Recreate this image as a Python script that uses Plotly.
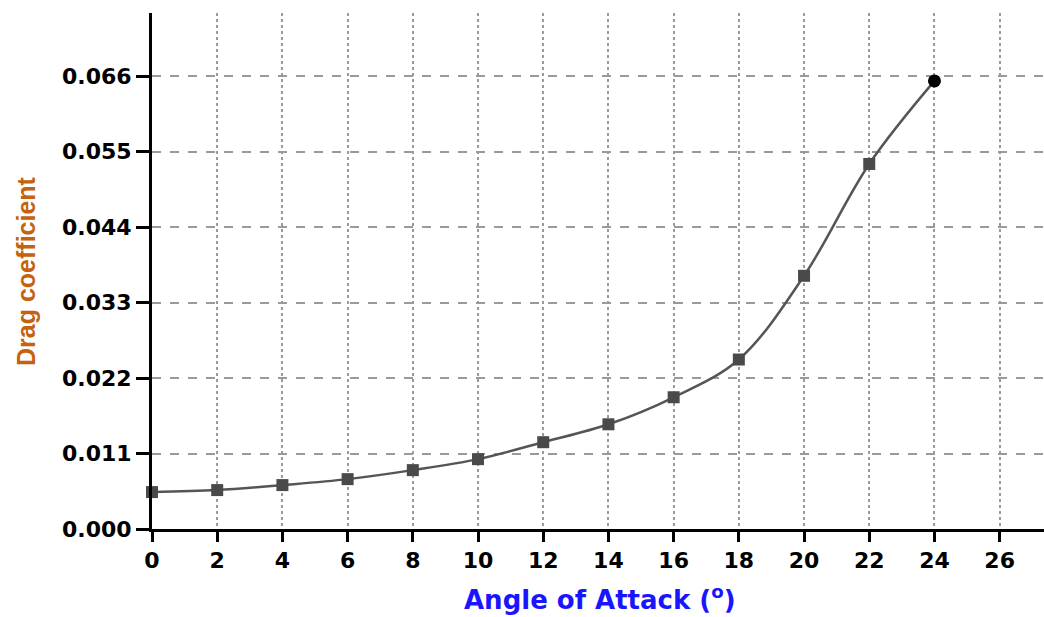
import plotly.graph_objects as go

angles = [0, 2, 4, 6, 8, 10, 12, 14, 16, 18, 20, 22, 24]
drag = [0.00538, 0.00567, 0.0064, 0.00727, 0.00858, 0.01018, 0.01265,
        0.01526, 0.0192, 0.0247, 0.0369, 0.0532, 0.0653]
x_ticks = list(range(0, 27, 2))
y_ticks = [0.0, 0.011, 0.022, 0.033, 0.044, 0.055, 0.066]
y_tick_text = ["0.000", "0.011", "0.022", "0.033", "0.044", "0.055", "0.066"]

symbols = ["square"] * (len(angles) - 1) + ["circle"]
mcolors = ["#4a4a4a"] * (len(angles) - 1) + ["#000000"]
msizes = [12] * (len(angles) - 1) + [13]

fig = go.Figure()
fig.add_trace(go.Scatter(
    x=angles, y=drag, mode="lines+markers",
    line=dict(color="#555555", width=2.5, shape="spline", smoothing=1.0),
    marker=dict(symbol=symbols, color=mcolors, size=msizes, opacity=1,
                line=dict(width=0)),
    showlegend=False, cliponaxis=False,
))

L, T, B = 152, 13, 88
W, H = 1044, 617
pw = W - L

tf = dict(family="DejaVu Sans", size=22, color="black", weight="bold")

fig.update_layout(
    width=W, height=H,
    margin=dict(l=L, r=0, t=T, b=B),
    paper_bgcolor="white", plot_bgcolor="white",
    xaxis=dict(
        range=[0, 27.36], tickvals=x_ticks, ticks="outside", ticklen=10,
        tickwidth=3, tickcolor="black", showline=True, linewidth=3,
        linecolor="black", showgrid=True, gridcolor="#9a9a9a", gridwidth=1.5,
        griddash="dot", zeroline=False, tickfont=tf,
    ),
    yaxis=dict(
        range=[0, 0.0752], tickvals=y_ticks, ticktext=y_tick_text,
        ticks="outside", ticklen=13, tickwidth=3, tickcolor="black",
        showline=True, linewidth=3, linecolor="black", showgrid=True,
        gridcolor="#9a9a9a", gridwidth=1.5, griddash="dash", zeroline=False,
        tickfont=tf,
    ),
    annotations=[
        dict(text="Angle of Attack (<sup>o</sup>)", xref="paper", yref="paper",
             x=(600 - L) / pw, y=-(598 - (H - B)) / (H - T - B),
             xanchor="center", yanchor="middle", showarrow=False,
             font=dict(family="DejaVu Sans", size=26, color="#1a14ff", weight="bold")),
        dict(text="Drag coefficient", xref="paper", yref="paper",
             x=-(L - 26) / pw, y=(H - B - 271) / (H - T - B),
             xanchor="center", yanchor="middle", showarrow=False, textangle=-90,
             font=dict(family="Liberation Sans Narrow, Liberation Sans, Arial", size=25,
                       color="#c4620f", weight="bold")),
    ],
)

fig.write_html("out.html")
